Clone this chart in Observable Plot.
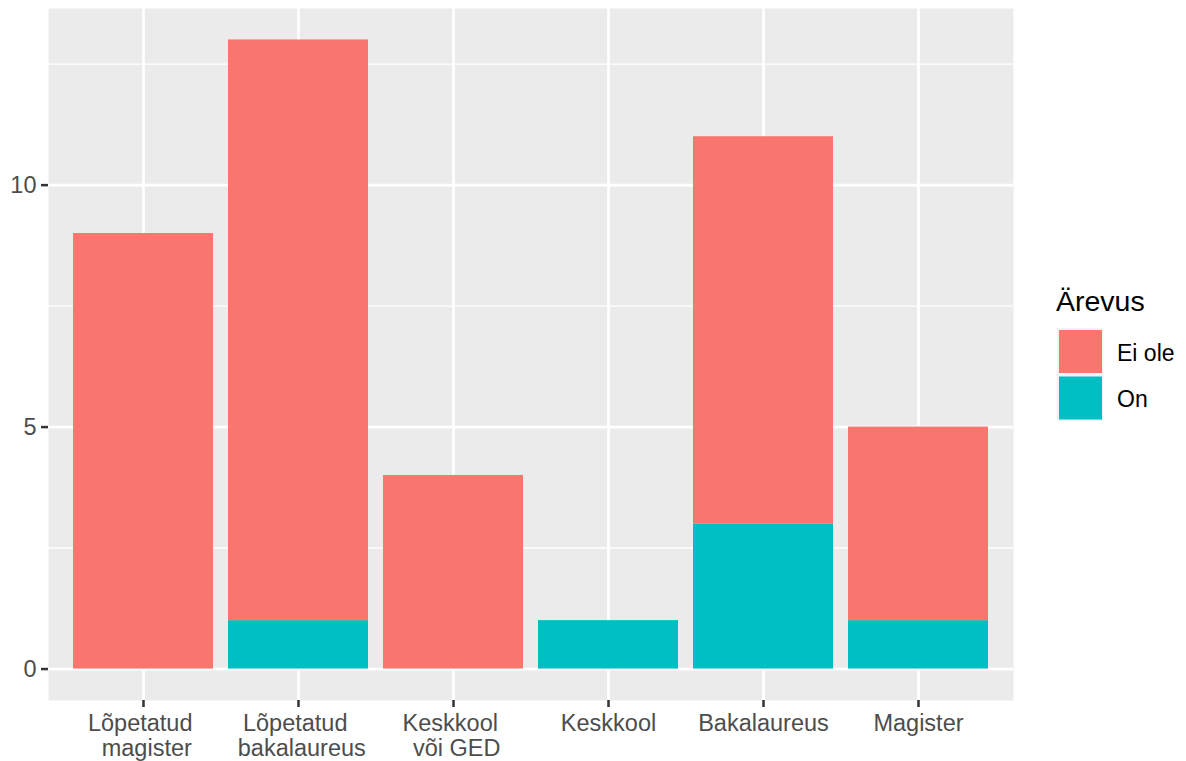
<!DOCTYPE html>
<html><head><meta charset="utf-8">
<script src="https://cdn.jsdelivr.net/npm/d3@7"></script>
<script src="https://cdn.jsdelivr.net/npm/@observablehq/plot@0.6"></script>
<style>
body{margin:0;background:#fff;font-family:"Liberation Sans",Arial,sans-serif;}
#wrap{position:relative;width:1186px;height:761px;}
#wrap svg text{white-space:pre;}
#legend{position:absolute;left:0;top:0;}
</style></head><body><div id="wrap"></div>
<script>
const categories = ["Lõpetatud \n magister", "Lõpetatud \n bakalaureus", "Keskkool \n või GED", "Keskkool", "Bakalaureus", "Magister"];
const statuses = ["Ei ole", "On"];
const colors = ["#F8766D", "#00BFC4"];
const eiOle = [9, 12, 4, 0, 8, 4];
const on = [0, 1, 0, 1, 3, 1];
const yTicks = [0, 5, 10];
const yMinor = [2.5, 7.5, 12.5];
const legendTitle = "Ärevus";

const data = [
  ...categories.map((c, i) => ({cat: c, status: "On", n: on[i]})),
  ...categories.map((c, i) => ({cat: c, status: "Ei ole", n: eiOle[i]}))
];

const font = '"Liberation Sans", Arial, sans-serif';
const chart = Plot.plot({
  width: 1186, height: 761,
  marginLeft: 48, marginRight: 173, marginTop: 8, marginBottom: 61,
  style: {fontFamily: font, background: "transparent"},
  x: {domain: categories, paddingInner: 0.1, paddingOuter: 0.15, axis: null},
  y: {domain: [-0.65, 13.65], axis: null},
  color: {domain: statuses, range: colors},
  marks: [
    Plot.frame({fill: "#EBEBEB", stroke: "none"}),
    Plot.ruleY(yMinor, {stroke: "#fff", strokeWidth: 1.4}),
    Plot.ruleY(yTicks, {stroke: "#fff", strokeWidth: 2.8}),
    Plot.ruleX(categories, {stroke: "#fff", strokeWidth: 2.8}),
    Plot.barY(data, {x: "cat", y: "n", fill: "status", order: ["On", "Ei ole"]}),
    Plot.axisY({ticks: yTicks, tickSize: 7, tickPadding: 5, stroke: "#333333", strokeWidth: 2.5, fill: "#4D4D4D", fontSize: 23.5, label: null}),
    Plot.axisX({tickSize: 7, tickPadding: 5.3, stroke: "#333333", strokeWidth: 2.5, fill: "#4D4D4D", fontSize: 23.5, lineHeight: 1.064, label: null})
  ]
});
document.getElementById("wrap").appendChild(chart);

// legend
const lg = d3.select("#wrap").append("svg").attr("id", "legend")
  .attr("width", 1186).attr("height", 761).style("pointer-events", "none");
lg.append("text").attr("x", 1056).attr("y", 311).attr("font-size", 28.5)
  .attr("font-family", font).attr("fill", "#000").text(legendTitle);
statuses.forEach((s, i) => {
  const y0 = 328 + i * 46.5;
  lg.append("rect").attr("x", 1057).attr("y", y0).attr("width", 46).attr("height", 46.5).attr("fill", "#F2F2F2");
  lg.append("rect").attr("x", 1059).attr("y", y0 + 2).attr("width", 43).attr("height", 43).attr("fill", colors[i]);
  lg.append("text").attr("x", 1117).attr("y", y0 + 32.5).attr("font-size", 23)
    .attr("font-family", font).attr("fill", "#000").text(s);
});
</script></body></html>
